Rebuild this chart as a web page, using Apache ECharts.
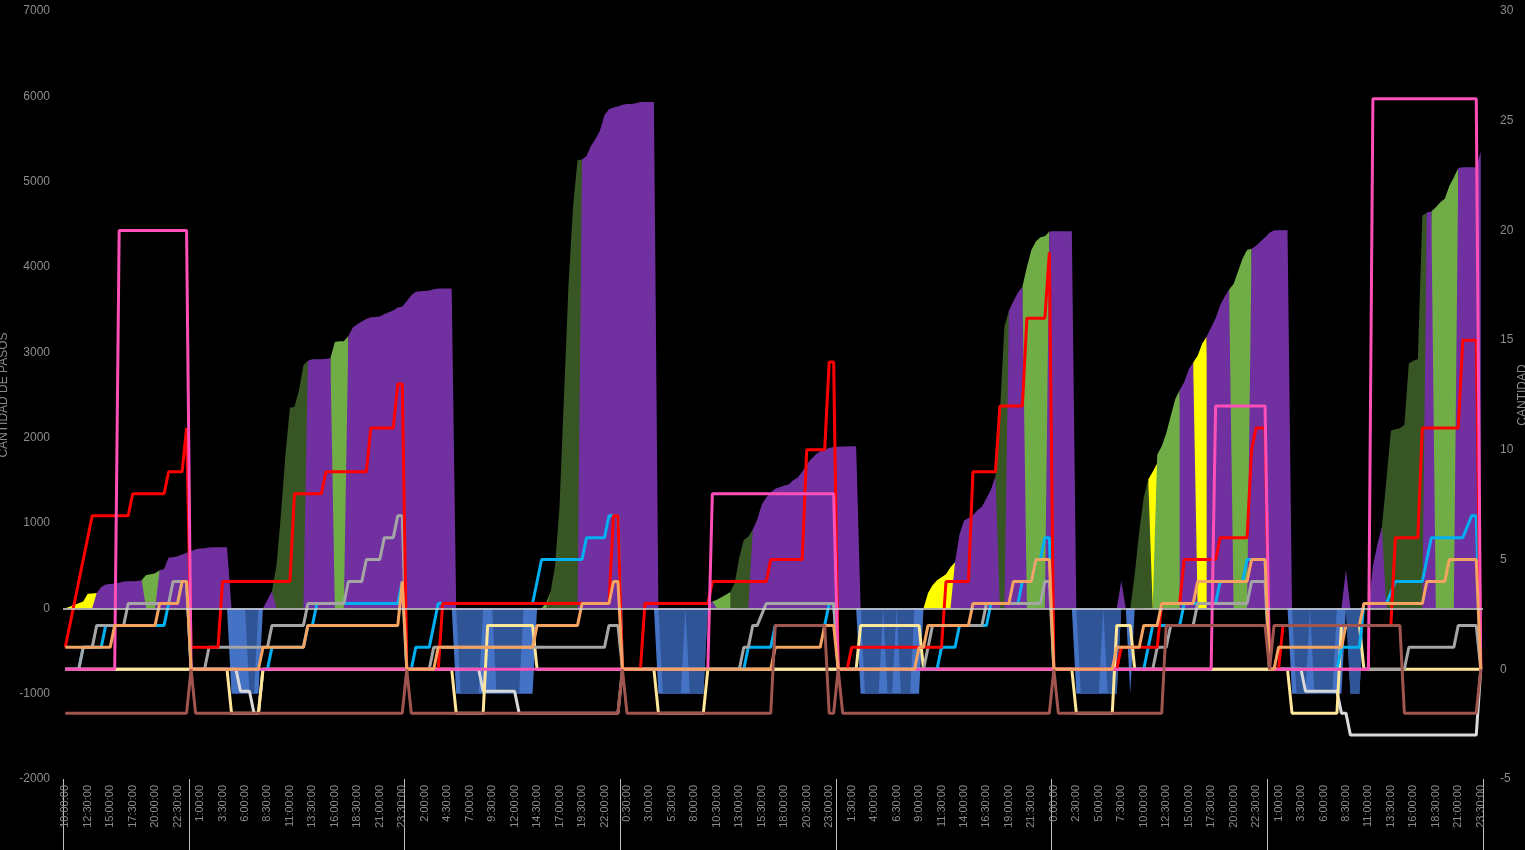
<!DOCTYPE html>
<html>
<head>
<meta charset="utf-8">
<script src="https://cdn.jsdelivr.net/npm/echarts@6/dist/echarts.min.js"></script>
<style>
html,body{margin:0;padding:0;background:#000;}
#chart{width:1525px;height:850px;}
</style>
</head>
<body>
<div id="chart"></div>
<script>
// ---- categories (30-minute slots, 10:00 on day 1 to 23:30 on day 7) ----
const slotCount = 316;
const firstSlotMinutes = 600;
const categories = [];
for (let k = 0; k < slotCount; k++) {
  const t = (firstSlotMinutes + 30 * k) % 1440;
  const h = Math.floor(t / 60), m = t % 60;
  categories.push(h + ':' + (m < 10 ? '0' + m : m) + ':00');
}
const dayStarts = [0, 28, 76, 124, 172, 220, 268];

// ---- left axis (CANTIDAD DE PASOS) areas: [slot index, value] ----
const sleepLight = [[36,0],[37,-1000],[43,-1000],[44,0],[86,0],[87,-1000],[104,-1000],[105,0],[131,0],[132,-1000],[142,-1000],[143,0],[176,0],[177,-1000],[190,-1000],[191,0],[224,0],[225,-1000],[234,-1000],[235,0],[236,0],[237,-1000],[238,0],[272,0],[273,-1000],[284,-1000],[285,0],[286,-1000],[288,-1000],[289,0]];
const sleepDeep = [[40,0],[41,-1000],[42,-1000],[43,0],[87,0],[88,-1000],[92,-1000],[93,0],[95,0],[96,-1000],[101,-1000],[102,0],[132,0],[133,-1000],[137,-1000],[138,0],[139,-1000],[142,-1000],[143,0],[177,0],[178,-1000],[181,-1000],[182,0],[183,-1000],[184,-1000],[185,0],[186,-1000],[188,-1000],[189,0],[225,0],[226,-1000],[230,-1000],[231,0],[232,-1000],[234,-1000],[235,0],[273,0],[274,-1000],[276,-1000],[277,0],[278,-1000],[282,-1000],[283,0],[285,0],[286,-1000],[288,-1000],[289,0]];
const stepsYellow = [[0,0],[1,20],[2,40],[3,60],[4,80],[5,170],[6,175],[7,180],[8,0],[190,0],[191,0],[192,180],[193,270],[194,330],[195,365],[196,400],[197,480],[198,540],[199,0],[240,0],[241,1510],[242,1600],[243,1700],[244,0],[250,0],[251,2880],[252,2960],[253,3100],[254,3185],[255,0]];
const stepsLightGreen = [[16,0],[17,330],[18,390],[19,400],[20,410],[21,445],[22,0],[58,0],[59,2930],[60,3120],[61,3130],[62,3130],[63,3190],[64,0],[106,0],[107,60],[108,190],[109,0],[143,0],[144,80],[145,100],[146,130],[147,160],[148,190],[149,0],[212,0],[213,3770],[214,4000],[215,4200],[216,4300],[217,4350],[218,4360],[219,4415],[220,0],[242,0],[243,1800],[244,1900],[245,2050],[246,2250],[247,2450],[248,2560],[249,0],[258,0],[259,3735],[260,3800],[261,3950],[262,4100],[263,4200],[264,4215],[265,0],[303,0],[304,4650],[305,4700],[306,4760],[307,4800],[308,4950],[309,5050],[310,5160],[311,0]];
const stepsDarkGreen = [[45,0],[46,200],[47,500],[48,1100],[49,1800],[50,2350],[51,2360],[52,2550],[53,2850],[54,2900],[55,0],[107,0],[108,190],[109,500],[110,1200],[111,2500],[112,3800],[113,4700],[114,5250],[115,5260],[116,0],[148,0],[148,190],[149,300],[150,600],[151,800],[152,840],[153,925],[154,0],[206,0],[207,1550],[208,2300],[209,3300],[210,3490],[211,0],[237,0],[238,400],[239,900],[240,1300],[241,1510],[242,0],[292,0],[293,950],[294,1500],[295,2080],[296,2100],[297,2110],[298,2150],[299,2870],[300,2900],[301,2920],[302,4600],[303,4640],[304,0]];
const stepsPurple = [[6,0],[7,180],[8,250],[9,280],[10,285],[11,290],[12,300],[13,315],[14,316],[15,318],[16,320],[17,330],[18,0],[20,0],[21,445],[22,460],[23,597],[24,600],[25,610],[26,632],[27,650],[28,670],[29,691],[30,700],[31,705],[32,714],[33,715],[34,716],[36,716],[37,0],
  [44,0],[45,100],[46,200],[47,0],[53,0],[54,2900],[55,2920],[57,2920],[58,2925],[59,2930],[60,0],[62,0],[63,3190],[64,3290],[65,3330],[66,3360],[67,3390],[68,3410],[69,3415],[70,3420],[71,3450],[72,3470],[73,3490],[74,3525],[75,3537],[76,3600],[77,3670],[78,3710],[79,3715],[80,3720],[81,3724],[82,3740],[83,3747],[86,3747],[87,0],
  [114,0],[115,5260],[116,5300],[117,5420],[118,5500],[119,5600],[120,5780],[121,5850],[122,5870],[123,5880],[124,5900],[125,5910],[126,5910],[127,5920],[128,5935],[131,5935],[132,0],
  [143,0],[144,80],[145,0],[152,0],[153,925],[154,1040],[155,1218],[156,1300],[157,1358],[158,1400],[159,1420],[160,1440],[161,1452],[162,1500],[163,1534],[164,1600],[165,1686],[166,1750],[167,1803],[168,1840],[169,1862],[170,1880],[171,1890],[172,1895],[173,1897],[176,1900],[177,0],
  [197,0],[198,540],[199,866],[200,1030],[201,1060],[202,1090],[203,1150],[204,1190],[205,1290],[206,1390],[207,1550],[208,0],[209,0],[210,3490],[211,3600],[212,3700],[213,3770],[214,0],[218,0],[219,4415],[220,4420],[224,4420],[225,0],
  [234,0],[235,320],[236,0],[248,0],[248,2560],[249,2650],[250,2800],[251,2880],[252,0],[254,0],[254,3185],[255,3290],[256,3400],[257,3550],[258,3650],[259,3735],[260,0],[263,0],[264,4215],[265,4250],[266,4300],[267,4350],[268,4400],[269,4430],[272,4430],[273,0],
  [284,0],[285,450],[286,0],[290,0],[291,500],[292,750],[293,950],[294,0],[302,0],[303,4640],[304,4650],[305,0],[309,0],[310,5160],[311,5170],[314,5170],[315,5350]];

// ---- right axis lines: [slot index, value] ----
const lineRed = [[0,1],[6,7],[14,7],[15,8],[22,8],[23,9],[26,9],[27,11],[28,1],[34,1],[35,4],[50,4],[51,8],[57,8],[58,9],[67,9],[68,11],[73,11],[74,13],[75,13],[76,0],[83,0],[84,3],[121,3],[122,7],[123,7],[124,0],[128,0],[129,3],[143,3],[144,4],[156,4],[157,5],[164,5],[165,10],[169,10],[170,14],[171,14],[172,0],[174,0],[175,1],[195,1],[196,4],[201,4],[202,9],[207,9],[208,12],[213,12],[214,16],[218,16],[219,19],[220,0],[234,0],[235,1],[243,1],[244,3],[248,3],[249,5],[256,5],[257,6],[263,6],[264,10],[265,11],[267,11],[268,0],[270,0],[271,2],[295,2],[296,6],[301,6],[302,11],[310,11],[311,15],[314,15],[315,0]];
const linePink = [[0,0],[11,0],[12,20],[27,20],[28,0],[143,0],[144,8],[171,8],[172,0],[255,0],[256,12],[267,12],[268,0],[290,0],[291,26],[314,26],[315,0]];
const lineOrange = [[0,1],[10,1],[11,2],[20,2],[21,3],[25,3],[26,4],[27,4],[28,0],[43,0],[44,1],[53,1],[54,2],[74,2],[75,4],[76,0],[82,0],[83,1],[104,1],[105,2],[114,2],[115,3],[121,3],[122,4],[123,4],[124,0],[157,0],[158,1],[168,1],[169,2],[171,2],[172,0],[189,0],[190,1],[191,1],[192,2],[201,2],[202,3],[210,3],[211,4],[215,4],[216,5],[219,5],[220,0],[233,0],[234,1],[239,1],[240,2],[243,2],[244,3],[251,3],[252,4],[263,4],[264,5],[267,5],[268,0],[269,0],[270,1],[284,1],[285,2],[288,2],[289,3],[302,3],[303,4],[307,4],[308,5],[314,5],[315,0]];
const lineCyan = [[0,0],[3,0],[4,1],[8,1],[9,2],[22,2],[23,3],[25,3],[26,4],[27,4],[28,0],[45,0],[46,1],[53,1],[54,2],[55,2],[56,3],[74,3],[75,4],[76,0],[77,0],[78,1],[81,1],[82,2],[83,3],[104,3],[105,4],[106,5],[115,5],[116,6],[120,6],[121,7],[123,7],[124,0],[151,0],[152,1],[157,1],[158,2],[169,2],[170,3],[171,3],[172,0],[194,0],[195,1],[198,1],[199,2],[205,2],[206,3],[212,3],[213,4],[215,4],[216,5],[217,5],[218,6],[219,6],[220,0],[240,0],[241,1],[242,2],[248,2],[249,3],[256,3],[257,4],[262,4],[263,5],[267,5],[268,0],[283,0],[284,1],[288,1],[289,3],[294,3],[296,4],[302,4],[303,5],[304,6],[311,6],[313,7],[314,7],[315,0]];
const lineGray = [[0,0],[3,0],[4,1],[6,1],[7,2],[13,2],[14,3],[23,3],[24,4],[27,4],[28,0],[31,0],[32,1],[45,1],[46,2],[53,2],[54,3],[62,3],[63,4],[66,4],[67,5],[70,5],[71,6],[73,6],[74,7],[75,7],[76,0],[81,0],[82,1],[120,1],[121,2],[123,2],[124,0],[150,0],[151,1],[152,1],[153,2],[154,2],[156,3],[171,3],[172,0],[191,0],[192,1],[193,2],[204,2],[205,3],[217,3],[218,4],[219,4],[220,0],[242,0],[243,1],[245,1],[246,2],[251,2],[252,3],[263,3],[264,4],[267,4],[268,0],[298,0],[299,1],[309,1],[310,2],[314,2],[315,0]];
const lineCream = [[0,0],[36,0],[37,-2],[43,-2],[44,0],[86,0],[87,-2],[93,-2],[94,2],[104,2],[105,0],[131,0],[132,-2],[142,-2],[143,0],[176,0],[177,2],[190,2],[191,0],[224,0],[225,-2],[233,-2],[234,2],[237,2],[238,0],[272,0],[273,-2],[283,-2],[284,2],[288,2],[289,0],[315,0]];
const lineSilver = [[0,0],[38,0],[39,-1],[41,-1],[42,-2],[43,-2],[44,0],[92,0],[93,-1],[100,-1],[101,-2],[123,-2],[124,0],[275,0],[276,-1],[283,-1],[284,-2],[285,-2],[286,-3],[314,-3],[315,0]];
const lineBrown = [[0,-2],[27,-2],[28,0],[29,-2],[75,-2],[76,0],[77,-2],[123,-2],[124,0],[125,-2],[157,-2],[158,2],[169,2],[170,-2],[171,-2],[172,0],[173,-2],[219,-2],[220,0],[221,-2],[244,-2],[245,2],[267,2],[268,0],[269,2],[297,2],[298,-2],[314,-2],[315,0]];

// ---- axis ticks ----
const leftTicks = {min: -2000, max: 7000, interval: 1000};
const rightTicks = {min: -5, max: 30, interval: 5};

function area(name, data, color) {
  return {name, type: 'line', yAxisIndex: 0, data, symbol: 'none', showSymbol: false,
    lineStyle: {width: 0}, itemStyle: {color}, areaStyle: {color, opacity: 1}, silent: true, animation: false};
}
function ln(name, data, color) {
  return {name, type: 'line', yAxisIndex: 1, data, symbol: 'none', showSymbol: false,
    lineStyle: {width: 3, color}, itemStyle: {color}, silent: true, animation: false};
}

const purple = area('Pasos', stepsPurple, '#7030A0');
purple.markLine = {silent: true, symbol: ['none', 'none'], label: {show: false}, animation: false,
  lineStyle: {color: '#D9D9D9', width: 1.5, type: 'solid'}, data: [{yAxis: 0}]};

const axisTextColor = '#8C8C8C';
const chart = echarts.init(document.getElementById('chart'));
chart.setOption({
  backgroundColor: '#000000',
  animation: false,
  grid: {left: 63, right: 42, top: 11, bottom: 71, containLabel: false, outerBoundsMode: 'none'},
  xAxis: {
    type: 'category', data: categories, boundaryGap: true,
    axisLine: {show: false, onZero: false},
    axisTick: {show: true, length: 75, interval: (i) => dayStarts.indexOf(i) >= 0,
      lineStyle: {color: '#BFBFBF', width: 1}},
    axisLabel: {interval: 4, rotate: 90, color: axisTextColor, fontSize: 11,
      fontFamily: 'Liberation Sans', margin: 6},
    splitLine: {show: false}
  },
  yAxis: [
    {type: 'value', min: leftTicks.min, max: leftTicks.max, interval: leftTicks.interval,
      name: 'CANTIDAD DE PASOS', nameLocation: 'middle', nameGap: 53, nameMoveOverlap: false,
      nameTextStyle: {color: axisTextColor, fontSize: 12, fontFamily: 'Liberation Sans'},
      axisLine: {show: false}, axisTick: {show: false}, splitLine: {show: false},
      axisLabel: {color: axisTextColor, fontSize: 12, fontFamily: 'Liberation Sans', margin: 13,
        formatter: (v) => String(v)}},
    {type: 'value', min: rightTicks.min, max: rightTicks.max, interval: rightTicks.interval,
      name: 'CANTIDAD', nameLocation: 'middle', nameGap: 34, nameRotate: 90, nameMoveOverlap: false,
      nameTextStyle: {color: axisTextColor, fontSize: 12, fontFamily: 'Liberation Sans'},
      axisLine: {show: false}, axisTick: {show: false}, splitLine: {show: false},
      axisLabel: {color: axisTextColor, fontSize: 12, fontFamily: 'Liberation Sans', margin: 17,
        formatter: (v) => String(v)}}
  ],
  series: [
    area('Sueño ligero', sleepLight, '#4472C4'),
    area('Sueño profundo', sleepDeep, '#2F5597'),
    area('Actividad A', stepsYellow, '#FFFF00'),
    area('Actividad B', stepsLightGreen, '#70AD47'),
    area('Actividad C', stepsDarkGreen, '#375623'),
    purple,
    ln('Serie blanca', lineSilver, '#D9D9D9'),
    ln('Serie crema', lineCream, '#FFE699'),
    ln('Serie cian', lineCyan, '#00B0F0'),
    ln('Serie gris', lineGray, '#A5A5A5'),
    ln('Serie roja', lineRed, '#FF0000'),
    ln('Serie rosa', linePink, '#FF4FB8'),
    ln('Serie naranja', lineOrange, '#F4A460'),
    ln('Serie marrón', lineBrown, '#A0554F')
  ]
});
</script>
</body>
</html>
